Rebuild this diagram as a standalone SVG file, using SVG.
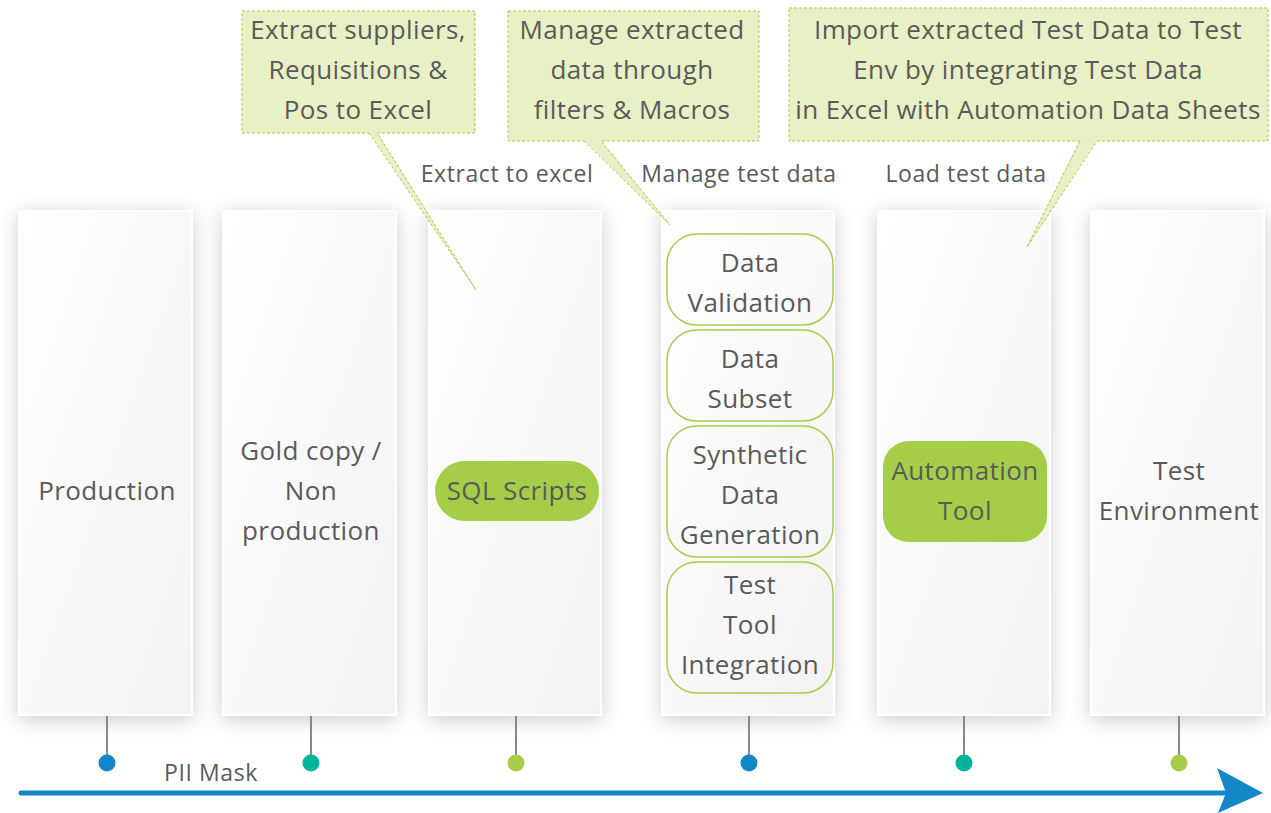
<svg xmlns="http://www.w3.org/2000/svg" width="1271" height="813" viewBox="0 0 1271 813">
<defs>
<linearGradient id="pg" x1="0" y1="0" x2="1" y2="1">
<stop offset="0" stop-color="#ffffff"/>
<stop offset="1" stop-color="#f2f2f2"/>
</linearGradient>
<filter id="sh" x="-30%" y="-10%" width="160%" height="125%">
<feGaussianBlur in="SourceAlpha" stdDeviation="10"/>
<feOffset dx="0" dy="4" result="b"/>
<feComponentTransfer><feFuncA type="linear" slope="0.2"/></feComponentTransfer>
<feMerge><feMergeNode/><feMergeNode in="SourceGraphic"/></feMerge>
</filter>
</defs>
<style>
text{font-family:"Open Sans","Liberation Sans",sans-serif;fill:#5a5a5a;text-anchor:middle}
.big{font-size:26px;letter-spacing:0.4px}
.lbl{font-size:23px;letter-spacing:0.6px}
.panel{fill:url(#pg);stroke:#ffffff;stroke-width:2}
.sub{fill:none;stroke:#a5cd48;stroke-width:1.5}
.pill{fill:#a5cd48}
.call{fill:#e8f1c6;stroke:#a5cd48;stroke-width:1;stroke-dasharray:3 2}
.tail{fill:#e8f1c6;stroke:none}
.tailedge{fill:none;stroke:#a5cd48;stroke-width:1;stroke-dasharray:3 2}
.stem{stroke:#888888;stroke-width:2}
</style>
<rect width="1271" height="813" fill="#ffffff"/>

<g id="panels" filter="url(#sh)">
<rect class="panel" x="19" y="211" width="173" height="504"/>
<rect class="panel" x="223" y="211" width="173" height="504"/>
<rect class="panel" x="429" y="211" width="172" height="504"/>
<rect class="panel" x="662" y="211" width="172" height="504"/>
<rect class="panel" x="878" y="211" width="172" height="504"/>
<rect class="panel" x="1091" y="211" width="173" height="504"/>
</g>

<g id="connectors">
<line class="stem" x1="107" y1="716" x2="107" y2="760"/>
<line class="stem" x1="311" y1="716" x2="311" y2="760"/>
<line class="stem" x1="516" y1="716" x2="516" y2="760"/>
<line class="stem" x1="749" y1="716" x2="749" y2="760"/>
<line class="stem" x1="964" y1="716" x2="964" y2="760"/>
<line class="stem" x1="1179" y1="716" x2="1179" y2="760"/>
<line x1="21" y1="793" x2="1240" y2="793" stroke="#1487c9" stroke-width="5" stroke-linecap="round"/>
<path d="M1217,768 L1263,793 L1218,813 L1226,793 Z" fill="#1487c9"/>
</g>

<g id="dots">
<circle cx="107" cy="763" r="8.5" fill="#1487c9"/>
<circle cx="311" cy="763" r="8.5" fill="#00b39b"/>
<circle cx="516" cy="763" r="8.5" fill="#a5cd48"/>
<circle cx="749" cy="763" r="8.5" fill="#1487c9"/>
<circle cx="964" cy="763" r="8.5" fill="#00b39b"/>
<circle cx="1179" cy="763" r="8.5" fill="#a5cd48"/>
</g>
<text class="lbl" x="211" y="781">PII Mask</text>

<g id="n-production"><text class="big" x="107" y="500">Production</text></g>
<g id="n-goldcopy">
<text class="big" x="311" y="460">Gold copy /</text>
<text class="big" x="311" y="500">Non</text>
<text class="big" x="311" y="540">production</text>
</g>
<g id="n-sql">
<rect class="pill" x="435" y="461" width="164" height="60" rx="30"/>
<text class="big" x="517" y="500">SQL Scripts</text>
</g>
<g id="n-validation">
<rect class="sub" x="667" y="234" width="166" height="91" rx="30"/>
<text class="big" x="750" y="272">Data</text>
<text class="big" x="750" y="312">Validation</text>
</g>
<g id="n-subset">
<rect class="sub" x="667" y="330" width="166" height="91" rx="30"/>
<text class="big" x="750" y="368">Data</text>
<text class="big" x="750" y="408">Subset</text>
</g>
<g id="n-synthetic">
<rect class="sub" x="667" y="426" width="166" height="131" rx="30"/>
<text class="big" x="750" y="464">Synthetic</text>
<text class="big" x="750" y="504">Data</text>
<text class="big" x="750" y="544">Generation</text>
</g>
<g id="n-testtool">
<rect class="sub" x="667" y="562" width="166" height="131" rx="30"/>
<text class="big" x="750" y="594">Test</text>
<text class="big" x="750" y="634">Tool</text>
<text class="big" x="750" y="674">Integration</text>
</g>
<g id="n-automation">
<rect class="pill" x="883" y="441" width="164" height="101" rx="26"/>
<text class="big" x="965" y="480">Automation</text>
<text class="big" x="965" y="520">Tool</text>
</g>
<g id="n-testenv">
<text class="big" x="1179" y="480">Test</text>
<text class="big" x="1179" y="520">Environment</text>
</g>

<g id="step-labels">
<text class="lbl" x="507" y="182">Extract to excel</text>
<text class="lbl" x="739" y="182">Manage test data</text>
<text class="lbl" x="966" y="182">Load test data</text>
</g>

<g id="callout-extract">
<rect class="call" x="242" y="11" width="233" height="122"/>
<polygon class="tail" points="369,132 377,132 476,290"/>
<polyline class="tailedge" points="369,133 476,290 377,133"/>
<text class="big" x="358" y="39">Extract suppliers,</text>
<text class="big" x="358" y="79">Requisitions &amp;</text>
<text class="big" x="358" y="119">Pos to Excel</text>
</g>
<g id="callout-manage">
<rect class="call" x="508" y="11" width="251" height="130"/>
<polygon class="tail" points="584,140 601,140 670,225"/>
<polyline class="tailedge" points="584,141 670,225 601,141"/>
<text class="big" x="632" y="39">Manage extracted</text>
<text class="big" x="632" y="79">data through</text>
<text class="big" x="632" y="119">filters &amp; Macros</text>
</g>
<g id="callout-import">
<rect class="call" x="789" y="8" width="479" height="133"/>
<polygon class="tail" points="1080,140 1097,140 1027,247"/>
<polyline class="tailedge" points="1080,141 1027,247 1097,141"/>
<text class="big" x="1028" y="39">Import extracted Test Data to Test</text>
<text class="big" x="1028" y="79">Env by integrating Test Data</text>
<text class="big" x="1028" y="119">in Excel with Automation Data Sheets</text>
</g>
</svg>
